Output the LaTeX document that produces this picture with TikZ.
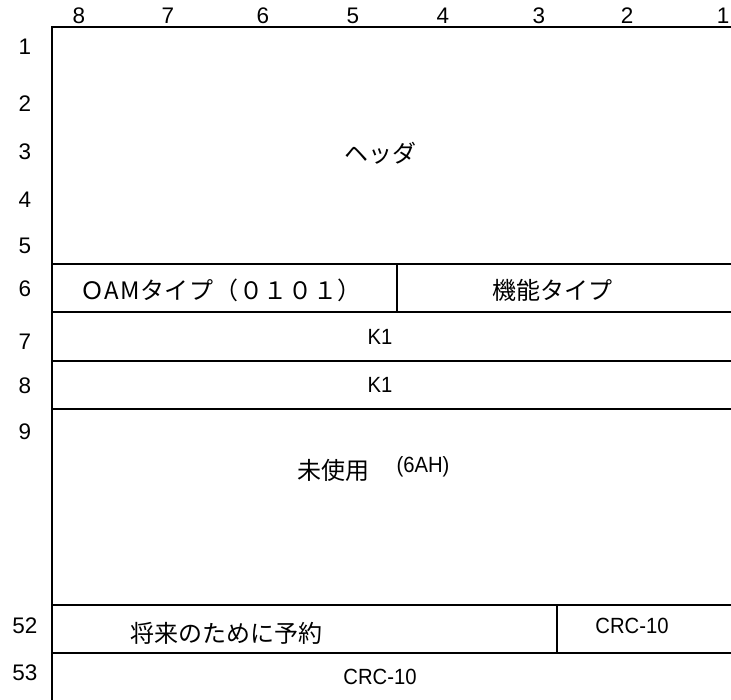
\documentclass[tikz,border=0pt]{standalone}
\usepackage{fontspec}
\setmainfont{Liberation Sans}
\newfontfamily\narrowfont{Liberation Sans}[FakeStretch=0.92]
\newfontfamily\jpfont{Noto Sans CJK JP}
\begin{document}
\begin{tikzpicture}[x=1pt,y=-1pt,
  rule/.style={line width=1.8pt,line cap=rect},
  lbl/.style={inner sep=0pt,font=\fontsize{22.5}{26}\selectfont},
  jtxt/.style={inner sep=0pt,font=\jpfont\fontsize{24}{28}\selectfont},
  ltxt/.style={inner sep=0pt,font=\narrowfont\fontsize{22}{26}\selectfont}]
\useasboundingbox (0,0) rectangle (731,699);
% frame lines
\draw[rule] (52,699) -- (52,27) -- (731,27);
\draw[rule] (52,264) -- (731,264);
\draw[rule] (52,312) -- (731,312);
\draw[rule] (52,361) -- (731,361);
\draw[rule] (52,409) -- (731,409);
\draw[rule] (52,605) -- (731,605);
\draw[rule] (52,653) -- (731,653);
\draw[rule] (397,264) -- (397,312);
\draw[rule] (557,605) -- (557,653);
% column labels
\foreach \n/\x in {8/79,7/168,6/263,5/353,4/443,3/539,2/627,1/723}
  \node[lbl] (c\n) at (\x,16) {\n};
% row labels
\foreach \n/\y in {1/47,2/104,3/152,4/200,5/246,6/289,7/342,8/386,9/432,52/626,53/673}
  \node[lbl] (r\n) at (25,\y) {\n};
% cell texts
\node[jtxt] (hdr) at (380,153) {ヘッダ};
\node[jtxt,font=\jpfont\addfontfeature{LetterSpace=3}\fontsize{24}{28}\selectfont] (oam) at (221,290) {ＯAMタイプ（０１０１）};
\node[jtxt] (func) at (552,290) {機能タイプ};
\node[ltxt] (k1a) at (380,337) {K1};
\node[ltxt] (k1b) at (380,385) {K1};
\node[jtxt] (unused) at (333,470) {未使用};
\node[ltxt] (hex) at (423,467) {(6AH)};
\node[jtxt] (resv) at (226,633) {将来のために予約};
\node[ltxt] (crca) at (632,626) {CRC-10};
\node[ltxt] (crcb) at (380,677) {CRC-10};
\end{tikzpicture}
\end{document}
